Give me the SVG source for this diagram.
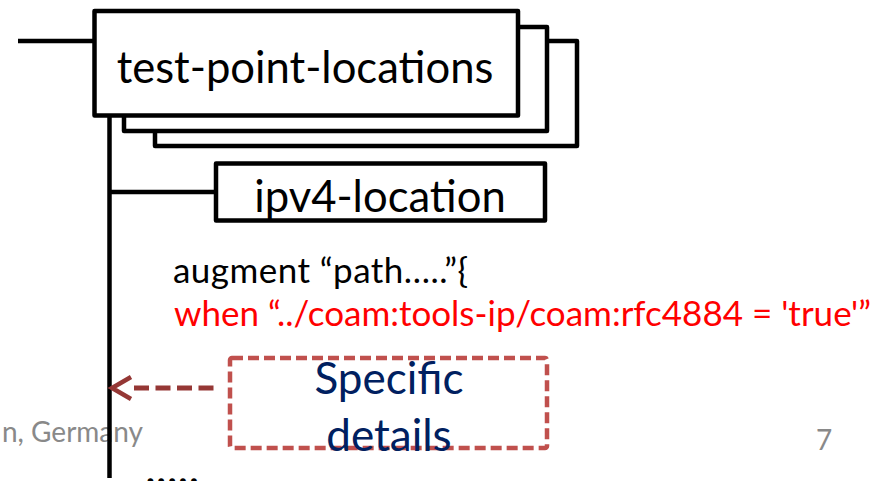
<svg xmlns="http://www.w3.org/2000/svg" width="885" height="481" viewBox="0 0 885 481">
<style>
.box{fill:#fff;stroke:#000;stroke-width:4.5;stroke-linejoin:round}
.ln{stroke:#000;stroke-width:4.5;fill:none}
.t{font-family:Lato,"Liberation Sans",sans-serif}
.big{font-size:43.6px;fill:#000;text-anchor:middle}
.code{font-size:35px}
.foot{font-size:28px;fill:#898989}
</style>
<rect width="885" height="481" fill="#fff"/>
<text class="t foot" x="143" y="442" text-anchor="end">n, Germany</text>
<text class="t foot" x="824" y="450" text-anchor="middle">7</text>
<g id="connectors">
<line class="ln" x1="18" y1="41" x2="94" y2="41"/>
<line class="ln" x1="109.5" y1="115" x2="109.5" y2="478"/>
<line class="ln" x1="109.5" y1="192" x2="216" y2="192"/>
<line x1="134" y1="388" x2="216" y2="388" stroke="#953735" stroke-width="5" stroke-dasharray="15 6.5"/>
<polyline points="131,377 112,388 131,399" fill="none" stroke="#953735" stroke-width="4.5"/>
</g>
<g id="test-point-locations">
<rect class="box" x="155" y="41" width="422" height="105"/>
<rect class="box" x="124" y="27" width="423" height="104"/>
<rect class="box" x="94.5" y="11" width="423.5" height="104.5"/>
<text class="t big" x="305" y="83">test-point-locations</text>
</g>
<g id="ipv4-location">
<rect class="box" x="216" y="163.5" width="329" height="57"/>
<text class="t big" x="380" y="212">ipv4-location</text>
</g>
<g id="augment">
<text class="t code" x="173" y="283" fill="#000" textLength="295" lengthAdjust="spacing">augment “path…..”{</text>
<text class="t code" x="174" y="326" fill="#ff0000">when “../coam:tools-ip/coam:rfc4884 = 'true'”</text>
</g>
<g id="specific-details">
<rect x="230" y="358" width="317" height="90" rx="2" fill="none" stroke="#c0504d" stroke-width="4.5" stroke-dasharray="11 5"/>
<text class="t" x="389" y="394" font-size="44" fill="#002060" text-anchor="middle">Specific</text>
<text class="t" x="389" y="451" font-size="44" fill="#002060" text-anchor="middle">details</text>
</g>
<text class="t" x="145" y="484" font-size="46" fill="#000">.....</text>
</svg>
